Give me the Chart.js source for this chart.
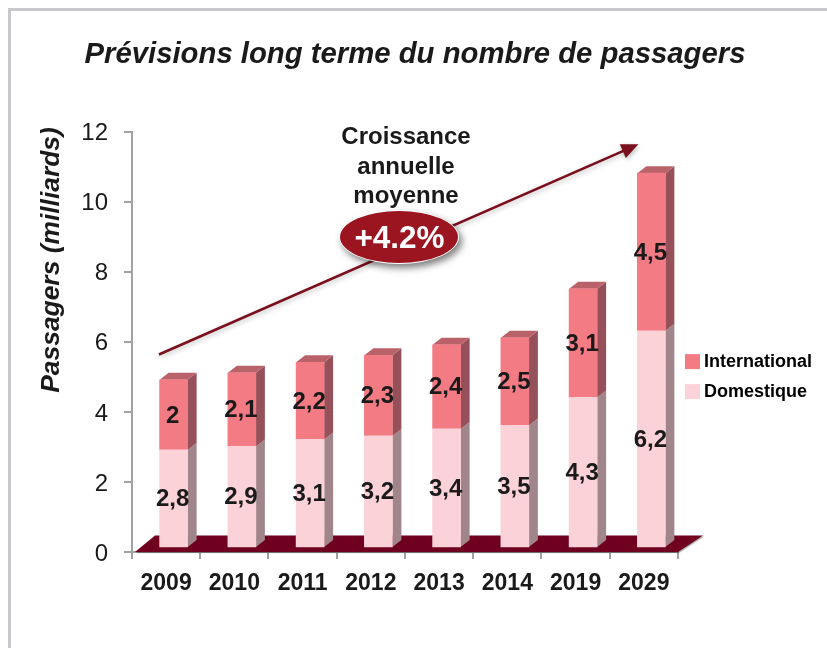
<!DOCTYPE html>
<html>
<head>
<meta charset="utf-8">
<title>Prévisions long terme du nombre de passagers</title>
<script src="https://cdn.jsdelivr.net/npm/chart.js@4"></script>
<style>
  html, body { margin: 0; padding: 0; background: #fff; overflow: hidden; }
  #cadre { position: absolute; left: 8px; top: 8px; width: 900px; height: 800px; border: 3px solid #c8c8cc; }
  #myChart { position: absolute; left: 0; top: 0; }
</style>
</head>
<body>
<div id="cadre"></div>
<canvas id="myChart" width="827" height="648"></canvas>
<script>
// Données
const annees = ['2009', '2010', '2011', '2012', '2013', '2014', '2019', '2029'];
const domestique = [2.8, 2.9, 3.1, 3.2, 3.4, 3.5, 4.3, 6.2];
const international = [2, 2.1, 2.2, 2.3, 2.4, 2.5, 3.1, 4.5];
const croissanceLignes = ['Croissance', 'annuelle', 'moyenne'];
const croissanceTaux = '+4.2%';
const titreAxeY = 'Passagers (milliards)';
// Flèche de tendance : [index de catégorie, valeur]
const flecheDebut = [-0.105, 5.64];
const flecheFin = [6.92, 11.64];

const texte = '#1a1a1a';
const gris = '#a2a2a2';
const police = '"Liberation Sans", Arial, sans-serif';

Chart.defaults.font.family = police;
Chart.defaults.color = texte;

const faces = {
  International: { face: '#f27b84', cote: '#955059', dessus: '#b9626a' },
  Domestique: { face: '#fbd2d8', cote: '#a0868a', dessus: '#a0868a' }
};

// Décalage de la pseudo-perspective 3D
const decal = { x: 7.5, y: -4, profX: 9, profY: -7 };

const perspective = {
  id: 'perspective',
  beforeDatasetsDraw(chart) {
    const ctx = chart.ctx;
    const xs = chart.scales.x;
    const y0 = chart.scales.y.getPixelForValue(0);
    // sol
    ctx.save();
    ctx.fillStyle = '#70001f';
    ctx.shadowColor = 'rgba(0,0,0,0.35)';
    ctx.shadowOffsetX = 1;
    ctx.shadowOffsetY = 1;
    ctx.shadowBlur = 1;
    ctx.beginPath();
    ctx.moveTo(xs.left + 3, y0);
    ctx.lineTo(xs.left + 23, y0 - 16.5);
    ctx.lineTo(xs.right + 25, y0 - 16.5);
    ctx.lineTo(xs.right, y0);
    ctx.closePath();
    ctx.fill();
    ctx.restore();

    ctx.save();
    ctx.translate(decal.x, decal.y);
    chart.data.datasets.forEach((ds, i) => {
      const c = faces[ds.label];
      chart.getDatasetMeta(i).data.forEach(bar => {
        const { x, y, base, width } = bar.getProps(['x', 'y', 'base', 'width']);
        const d = x + width / 2;
        const g = x - width / 2;
        ctx.fillStyle = c.cote;
        ctx.beginPath();
        ctx.moveTo(d, y);
        ctx.lineTo(d + decal.profX, y + decal.profY);
        ctx.lineTo(d + decal.profX, base + decal.profY);
        ctx.lineTo(d, base);
        ctx.closePath();
        ctx.fill();
        if (i === chart.data.datasets.length - 1) {
          ctx.fillStyle = c.dessus;
          ctx.beginPath();
          ctx.moveTo(g, y);
          ctx.lineTo(g + decal.profX, y + decal.profY);
          ctx.lineTo(d + decal.profX, y + decal.profY);
          ctx.lineTo(d, y);
          ctx.closePath();
          ctx.fill();
        }
      });
    });
  },
  afterDatasetsDraw(chart) {
    chart.ctx.restore();
  }
};

const annotations = {
  id: 'annotations',
  afterDraw(chart) {
    const ctx = chart.ctx;
    const xs = chart.scales.x;
    const ys = chart.scales.y;

    // titre de l'axe Y : il n'est pas centré sur l'axe et dépasse un peu le haut
    ctx.save();
    ctx.translate(52, 260);
    ctx.rotate(-Math.PI / 2);
    ctx.font = 'italic bold 26.4px ' + police;
    ctx.fillStyle = texte;
    ctx.textAlign = 'center';
    ctx.textBaseline = 'middle';
    ctx.fillText(titreAxeY, 0, 0);
    ctx.restore();

    // étiquettes des segments
    ctx.save();
    ctx.font = 'bold 24px ' + police;
    ctx.fillStyle = texte;
    ctx.textAlign = 'center';
    ctx.textBaseline = 'middle';
    chart.data.datasets.forEach((ds, i) => {
      chart.getDatasetMeta(i).data.forEach((bar, j) => {
        const { x, y, base } = bar.getProps(['x', 'y', 'base']);
        ctx.fillText(String(ds.data[j]).replace('.', ','), x + decal.x - 1, (y + base) / 2 + decal.y + 1);
      });
    });

    // flèche de tendance
    const x1 = xs.getPixelForValue(flecheDebut[0]);
    const y1 = ys.getPixelForValue(flecheDebut[1]);
    const x2 = xs.getPixelForValue(flecheFin[0]);
    const y2 = ys.getPixelForValue(flecheFin[1]);
    const a = Math.atan2(y2 - y1, x2 - x1);
    ctx.shadowColor = 'rgba(0,0,0,0.25)';
    ctx.shadowBlur = 5;
    ctx.shadowOffsetX = 1;
    ctx.shadowOffsetY = 2;
    ctx.strokeStyle = '#7a0f1e';
    ctx.fillStyle = '#7a0f1e';
    ctx.lineWidth = 2.6;
    ctx.beginPath();
    ctx.moveTo(x1, y1);
    ctx.lineTo(x2 - 12 * Math.cos(a), y2 - 12 * Math.sin(a));
    ctx.stroke();
    ctx.translate(x2, y2);
    ctx.rotate(a);
    ctx.beginPath();
    ctx.moveTo(0, 0);
    ctx.lineTo(-17, -7.5);
    ctx.lineTo(-17, 7.5);
    ctx.closePath();
    ctx.fill();
    ctx.restore();

    // pastille
    ctx.save();
    ctx.beginPath();
    ctx.ellipse(399, 237, 60, 27, 0, 0, Math.PI * 2);
    ctx.shadowColor = 'rgba(0,0,0,0.5)';
    ctx.shadowBlur = 7;
    ctx.shadowOffsetX = 3;
    ctx.shadowOffsetY = 4;
    ctx.fillStyle = '#fff';
    ctx.fill();
    ctx.restore();
    ctx.save();
    ctx.beginPath();
    ctx.ellipse(399, 237, 59, 26, 0, 0, Math.PI * 2);
    ctx.fillStyle = '#9a1520';
    ctx.fill();
    ctx.textAlign = 'center';
    ctx.textBaseline = 'middle';
    ctx.fillStyle = '#fff';
    ctx.font = 'bold 31.5px ' + police;
    ctx.fillText(croissanceTaux, 399.5, 239);
    ctx.fillStyle = texte;
    ctx.font = 'bold 24px ' + police;
    croissanceLignes.forEach((l, i) => ctx.fillText(l, 406, 137.5 + i * 29.5));
    ctx.restore();
  }
};

new Chart(document.getElementById('myChart').getContext('2d'), {
  type: 'bar',
  data: {
    labels: annees,
    datasets: [
      { label: 'Domestique', data: domestique, backgroundColor: faces.Domestique.face, clip: false },
      { label: 'International', data: international, backgroundColor: faces.International.face, clip: false }
    ]
  },
  options: {
    responsive: false,
    animation: false,
    devicePixelRatio: 1,
    barThickness: 28,
    layout: { padding: { left: 8, top: 0, right: 5, bottom: 26 } },
    plugins: {
      title: {
        display: true,
        text: 'Prévisions long terme du nombre de passagers',
        color: texte,
        font: { size: 29.3, weight: 'bold', style: 'italic' },
        padding: { top: 37.5, bottom: 59 }
      },
      legend: {
        position: 'right',
        reverse: true,
        // titre vide : descend la légende, qui occupe toute la hauteur du canvas
        title: { display: true, text: ' ', font: { size: 1 }, padding: 65 },
        labels: {
          boxWidth: 5,
          boxHeight: 5,
          padding: 12,
          color: '#000',
          font: { size: 18, weight: 'bold' },
          // carré dessiné par un trait épais pour coller le texte à la pastille
          generateLabels(chart) {
            return Chart.defaults.plugins.legend.labels.generateLabels(chart)
              .map(it => ({ ...it, lineWidth: 10, strokeStyle: it.fillStyle }));
          }
        }
      },
      tooltip: { enabled: false }
    },
    scales: {
      x: {
        stacked: true,
        afterFit(scale) { scale.height = 70; },
        border: { color: gris, width: 2 },
        grid: { offset: true, drawOnChartArea: false, color: gris, lineWidth: 2, tickLength: 7 },
        ticks: { color: texte, padding: 11, maxRotation: 0, font: { size: 23, weight: 'bold' } }
      },
      y: {
        stacked: true,
        min: 0,
        max: 12,
        afterFit(scale) { scale.width = 124; },
        border: { color: gris, width: 2 },
        grid: { drawOnChartArea: false, color: gris, lineWidth: 2, tickLength: 8 },
        ticks: { stepSize: 2, color: texte, padding: 16, labelOffset: 2, font: { size: 24 } }
      }
    }
  },
  plugins: [perspective, annotations]
});
</script>
</body>
</html>
